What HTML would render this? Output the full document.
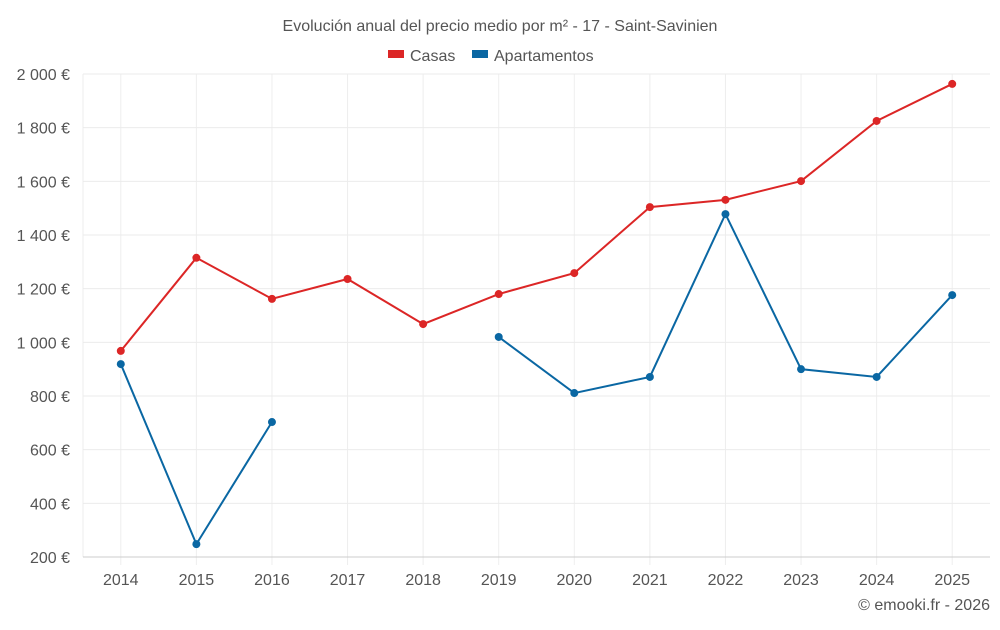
<!DOCTYPE html>
<html><head><meta charset="utf-8"><style>
body{margin:0;background:#fff;font-family:"Liberation Sans",sans-serif;}
svg text{font-family:"Liberation Sans",sans-serif;}
</style></head><body>
<svg id="c" width="1000" height="625">
<text x="500" y="31" text-anchor="middle" font-size="16" fill="#555">Evolución anual del precio medio por m² - 17 - Saint-Savinien</text>
<g>
<g><rect x="388" y="50" width="16" height="8" fill="#dc2626"/><text x="410" y="61" font-size="16" fill="#555">Casas</text></g>
<g><rect x="472" y="50" width="16" height="8" fill="#0a67a3"/><text x="494" y="61" font-size="16" fill="#555">Apartamentos</text></g>
</g>
<g id="grid"></g><g id="axes"></g><g id="series"></g>
<text x="990" y="610" text-anchor="end" font-size="16" fill="#555">© emooki.fr - 2026</text>
</svg>
<script>
const years=[2014,2015,2016,2017,2018,2019,2020,2021,2022,2023,2024,2025];
const casas=[968,1315,1162,1236,1068,1180,1258,1504,1531,1601,1825,1963];
const apartamentos=[919,248,703,null,null,1020,811,871,1478,900,871,1176];
const yTicks=[200,400,600,800,1000,1200,1400,1600,1800,2000];
const yTickLabels=["200 €","400 €","600 €","800 €","1 000 €","1 200 €","1 400 €","1 600 €","1 800 €","2 000 €"];
const L=83,R=990,T=74,B=557;
const NS="http://www.w3.org/2000/svg";
const step=(R-L)/years.length;
function xs(i){return L+step*(i+0.5);}
function ys(v){return B-(v-200)/(2000-200)*(B-T);}
function mk(tag,attrs,parent){const e=document.createElementNS(NS,tag);for(const k in attrs)e.setAttribute(k,attrs[k]);parent.appendChild(e);return e;}
const grid=document.getElementById('grid'),axes=document.getElementById('axes'),ser=document.getElementById('series');
const lft=mk('line',{x1:L,x2:L,y1:T,y2:B,stroke:'#eeeeee'},grid);


years.forEach((y,i)=>{
 const ln=mk('line',{x1:xs(i),x2:xs(i),y1:T,y2:B+8,stroke:'#eeeeee'},grid);
 
 
});
yTicks.forEach((t,i)=>{
 const ln=mk('line',{x1:L,x2:R,y1:ys(t),y2:ys(t),stroke:i==0?'#ccc':'#ebebeb'},grid);
 
 
 const tx=mk('text',{x:70,y:ys(t)+6,'text-anchor':'end','font-size':16,fill:'#555'},axes);
 tx.textContent=yTickLabels[i];
 
 
});
years.forEach((y,i)=>{
 const tx=mk('text',{x:xs(i),y:585,'text-anchor':'middle','font-size':16,fill:'#555'},axes);
 tx.textContent=y;
 
 
});
function draw(vals,color,name){
 const g=mk('g',{},ser);
 
 
 let d='',pen=false;
 vals.forEach((v,i)=>{if(v==null){pen=false;return;}d+=(pen?'L':'M')+xs(i)+','+ys(v);pen=true;});
 const p=mk('path',{d:d,fill:'none',stroke:color,'stroke-width':2},g);
 
 
 vals.forEach((v,i)=>{if(v==null)return;
  const c=mk('circle',{cx:xs(i),cy:ys(v),r:4,fill:color},g);
  
  
 });
}
draw(casas,'#dc2626','casas');
draw(apartamentos,'#0a67a3','apartamentos');
</script>
</body></html>
